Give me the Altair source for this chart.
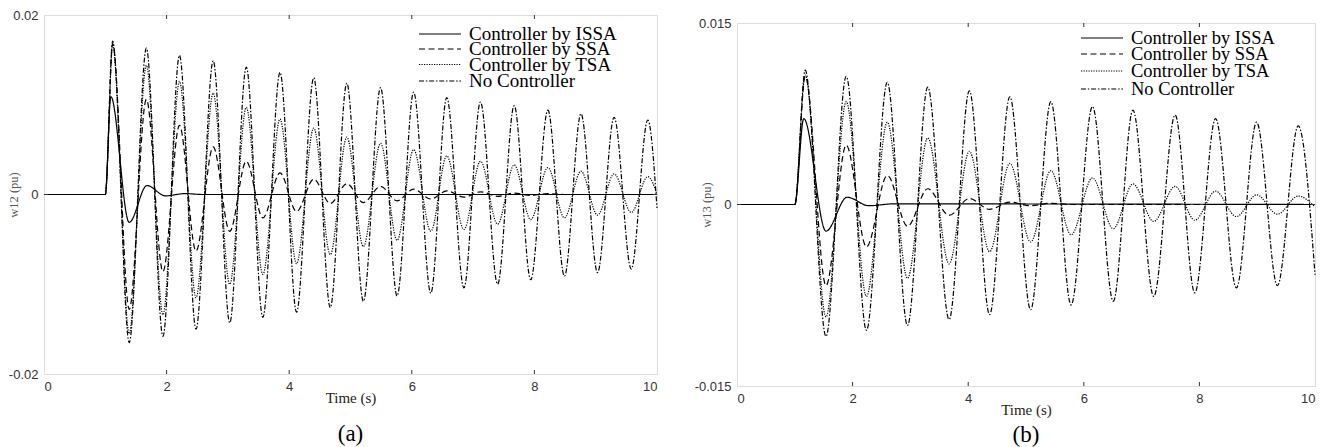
import altair as alt
import pandas as pd

# ---------------- data ----------------
names = ["Controller by ISSA", "Controller by SSA", "Controller by TSA", "No Controller"]

# Panel (a): w12
a_t = [0, 1.0, 1.12, 1.39, 1.67, 1.94, 2.21, 2.48, 2.76, 3.03, 3.30, 3.57, 3.85, 4.12,
       4.40, 4.67, 4.94, 5.21, 5.49, 5.76, 6.03, 6.31, 6.57, 6.85, 7.12, 7.40, 7.67,
       7.94, 8.22, 8.49, 8.76, 9.03, 9.30, 9.58, 9.85, 10.0]
a_none = [0, 0, 0.0171, -0.0165, 0.0163, -0.0158, 0.0155, -0.0150, 0.0149, -0.0143,
          0.0142, -0.0137, 0.0136, -0.0131, 0.0130, -0.0126, 0.0124, -0.0119, 0.0119,
          -0.0113, 0.0114, -0.0110, 0.0108, -0.0104, 0.0103, -0.0100, 0.0099, -0.0095,
          0.0094, -0.0091, 0.0090, -0.0087, 0.0086, -0.0083, 0.0083, -0.0015]
a_tsa = [0, 0, 0.0166, -0.0155, 0.0144, -0.0134, 0.0126, -0.0115, 0.0113, -0.0100,
         0.0097, -0.0089, 0.0084, -0.0077, 0.0074, -0.0067, 0.0064, -0.0058, 0.0057,
         -0.0051, 0.0050, -0.0041, 0.0043, -0.0039, 0.0037, -0.0033, 0.0033, -0.0028,
         0.0030, -0.0026, 0.0026, -0.0023, 0.0023, -0.0020, 0.0020, 0.0000]
a_ssa = [0, 0, 0.0168, -0.0128, 0.0106, -0.0086, 0.0077, -0.0063, 0.0053, -0.0041,
         0.0037, -0.0026, 0.0024, -0.0019, 0.0017, -0.0010, 0.0012, -0.0009, 0.0009,
         -0.0007, 0.0006, -0.0005, 0.0004, -0.0003, 0.0003, -0.0002, 0.00015, -0.0001,
         0.0001, 0, 0, 0, 0, 0, 0, 0]
a_issa_t = [0, 1.0, 1.09, 1.39, 1.68, 1.98, 2.30, 2.60, 10.0]
a_issa = [0, 0, 0.0109, -0.0031, 0.0010, -0.00015, 0.0001, 0, 0]

# Panel (b): w13
b_t = [0, 1.0, 1.18, 1.54, 1.89, 2.24, 2.60, 2.95, 3.30, 3.67, 4.02, 4.37, 4.72, 5.08,
       5.43, 5.78, 6.15, 6.51, 6.85, 7.21, 7.58, 7.92, 8.28, 8.64, 8.99, 9.35, 9.71, 10.0]
b_none = [0, 0, 0.0111, -0.0109, 0.0106, -0.0104, 0.0101, -0.0100, 0.0097, -0.0095,
          0.0094, -0.0091, 0.0089, -0.0087, 0.0085, -0.0083, 0.0081, -0.0080, 0.0078,
          -0.0076, 0.0074, -0.0073, 0.0071, -0.0069, 0.0068, -0.0067, 0.0065, -0.0058]
b_tsa = [0, 0, 0.0107, -0.0093, 0.0085, -0.0076, 0.0068, -0.0061, 0.0055, -0.0049,
         0.0044, -0.0039, 0.0034, -0.0031, 0.0028, -0.0025, 0.0022, -0.0020, 0.0017,
         -0.0014, 0.0015, -0.0013, 0.0011, -0.0010, 0.0008, -0.0008, 0.0007, -0.0002]
b_ssa = [0, 0, 0.0106, -0.0067, 0.0049, -0.0035, 0.0024, -0.0018, 0.0013, -0.0009,
         0.0005, -0.0004, 0.0002, -0.0001, 0.0001, 0, 0, 0, 0, 0, 0, 0, 0, 0, 0, 0, 0, 0]
b_issa_t = [0, 1.0, 1.155, 1.54, 1.905, 2.28, 2.70, 10.0]
b_issa = [0, 0, 0.0071, -0.0022, 0.0006, -0.0001, 0.00005, 0]

x_ticks = [0, 2, 4, 6, 8, 10]
x_inner_ticks = [2, 4, 6, 8]

# ---------------- styles ----------------
dash_map = {
    "Controller by ISSA": [1, 0],
    "Controller by SSA": [6, 3.5],
    "Controller by TSA": [1.2, 1.3],
    "No Controller": [5, 1.8, 1.5, 1.8],
}
SERIF = "Liberation Serif"
SANS = "Liberation Sans"
FRAME = "#333333"


def panel(t_c, none, ssa, tsa, issa_t, issa, ydom, yfmt, ytitle, W, H,
          leg_x, leg_rows, leg_fs, caption, cap_y, title_x):
    rows = []
    for name, tt, vv in [("No Controller", t_c, none), ("Controller by TSA", t_c, tsa),
                         ("Controller by SSA", t_c, ssa), ("Controller by ISSA", issa_t, issa)]:
        for a, b in zip(tt, vv):
            rows.append({"series": name, "t": a, "v": b})
    df = pd.DataFrame(rows)

    ylim = ydom[1]
    xenc = alt.X("t:Q", scale=alt.Scale(domain=[0, 10], nice=False, zero=False),
                 axis=alt.Axis(values=x_ticks, title="Time (s)", grid=False, ticks=False,
                               tickSize=0, domain=False, labelFont=SANS, labelFontSize=13,
                               labelColor="#333", labelPadding=6, titleFont=SERIF,
                               titleFontSize=15, titleFontWeight="normal", titleColor="#222",
                               titlePadding=-3))
    yenc = alt.Y("v:Q", scale=alt.Scale(domain=ydom, nice=False, zero=False),
                 axis=alt.Axis(values=[-ylim, 0, ylim], title=ytitle, grid=False, ticks=False,
                               tickSize=0, domain=False, labelFont=SANS, labelFontSize=13,
                               labelColor="#333", labelPadding=6,
                               labelExpr=("datum.value == 0 ? '0' : (datum.value < 0 ? '-' : '') + "
                                          f"format(abs(datum.value), '{yfmt}')"),
                               titleFont=SERIF, titleFontSize=12.5, titleFontWeight="normal",
                               titleColor="#555", titleX=title_x, titleY=H / 2,
                               titleBaseline="middle", titleAlign="center"))

    lines = alt.Chart(df).mark_line(interpolate="monotone", strokeWidth=1.2, color="black").encode(
        x=xenc, y=yenc,
        strokeDash=alt.StrokeDash("series:N", scale=alt.Scale(domain=names, range=[dash_map[n] for n in names]),
                                  legend=None),
    )

    tdf = pd.DataFrame({"t": x_inner_ticks})
    tick_b = alt.Chart(tdf).mark_rule(color=FRAME, strokeWidth=1).encode(x=xenc, y=alt.value(H), y2=alt.value(H - 4))
    tick_t = alt.Chart(tdf).mark_rule(color=FRAME, strokeWidth=1).encode(x=xenc, y=alt.value(0), y2=alt.value(4))
    ydf = pd.DataFrame({"v": [0]})
    tick_l = alt.Chart(ydf).mark_rule(color=FRAME, strokeWidth=1).encode(y=yenc, x=alt.value(0), x2=alt.value(4))
    tick_r = alt.Chart(ydf).mark_rule(color=FRAME, strokeWidth=1).encode(y=yenc, x=alt.value(W - 4), x2=alt.value(W))

    layers = [lines, tick_b, tick_t, tick_l, tick_r]
    one = pd.DataFrame({"k": [0]})
    for name, yy in zip(names, leg_rows):
        d = dash_map[name]
        layers.append(alt.Chart(one).mark_rule(color="black", strokeWidth=1.2, strokeDash=d).encode(
            x=alt.value(leg_x), x2=alt.value(leg_x + 42), y=alt.value(yy)))
        layers.append(alt.Chart(one).mark_text(align="left", baseline="middle", font=SERIF,
                                               fontSize=leg_fs, color="black").encode(
            x=alt.value(leg_x + 50), y=alt.value(yy), text=alt.value(name)))
    layers.append(alt.Chart(one).mark_text(align="center", baseline="middle", font=SERIF,
                                           fontSize=23, color="black").encode(
        x=alt.value(W / 2), y=alt.value(cap_y), text=alt.value(caption)))

    return alt.layer(*layers).properties(width=W, height=H)


pa = panel(a_t, a_none, a_ssa, a_tsa, a_issa_t, a_issa, [-0.02, 0.02], ".2f", "w12 (pu)",
           613, 359, 375, [19, 34, 49.5, 66], 19, "(a)", 359 + 60, -31)
pb = panel(b_t, b_none, b_ssa, b_tsa, b_issa_t, b_issa, [-0.015, 0.015], ".3f", "w13 (pu)",
           578, 363, 344, [15, 31, 48, 66], 18.5, "(b)", 363 + 49, -31)

# invisible strip that pushes panel (b) a little lower, as in the figure
spacer = alt.Chart(pd.DataFrame({"k": [0]})).mark_rule(opacity=0).encode(
    x=alt.value(0), x2=alt.value(10), y=alt.value(1)
).properties(width=578, height=2, view=alt.ViewBackground(stroke="transparent"))

right = alt.vconcat(spacer, pb, spacing=-2)

chart = alt.hconcat(pa, right, spacing=33,
                    padding={"left": -2, "top": 0, "right": 0, "bottom": 0}).configure_view(
    stroke=FRAME, strokeWidth=1).configure(background="white")

chart.save("out.html", embed_options={"renderer": "svg", "actions": False})
